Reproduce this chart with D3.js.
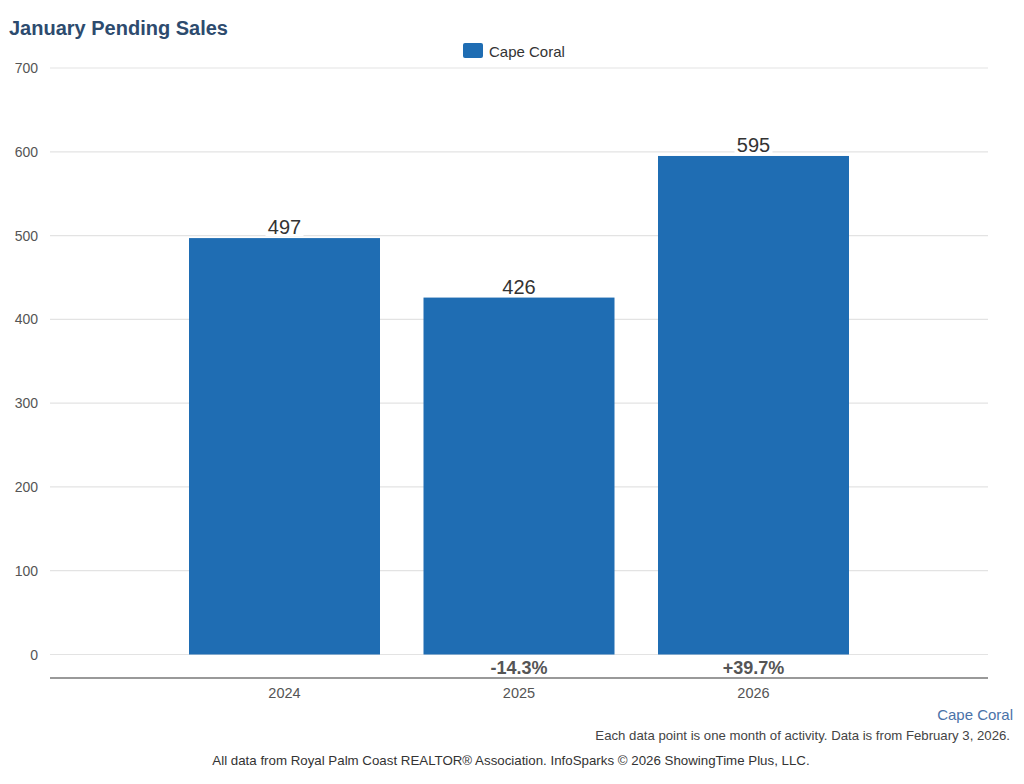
<!DOCTYPE html>
<html>
<head>
<meta charset="utf-8">
<script src="https://cdn.jsdelivr.net/npm/d3@7"></script>
<style>
  body { margin: 0; background: #fff; }
  svg { font-family: "Liberation Sans", Arial, sans-serif; }
</style>
</head>
<body>
<svg id="chart" width="1024" height="784"></svg>
<script>
// chart data
var years = [2024, 2025, 2026];
var pendingSales = [497, 426, 595];
var changeLabels = ['', '-14.3%', '+39.7%'];
var yTicks = [0, 100, 200, 300, 400, 500, 600, 700];
var seriesName = 'Cape Coral';

var svg = d3.select('#chart');
var plotLeft = 50, plotRight = 988, plotTop = 68, zeroY = 654.5;

// blank slot on each side of the years, like the original chart
var x = d3.scalePoint()
    .domain(['a'].concat(years, ['b']))
    .range([plotLeft, plotRight]);
var y = d3.scaleLinear().domain([0, 700]).range([zeroY, plotTop]);
var barW = 191;
var blue = '#1f6db3';

svg.append('text')
    .attr('x', 9).attr('y', 35)
    .style('font-size', '20px').style('font-weight', 'bold')
    .attr('fill', '#2d4b6e')
    .text('January Pending Sales');

// legend
svg.append('rect')
    .attr('x', 463).attr('y', 43).attr('width', 20).attr('height', 15)
    .attr('rx', 2).attr('fill', blue);
svg.append('text')
    .attr('x', 489).attr('y', 57)
    .style('font-size', '15px').attr('fill', '#333')
    .text(seriesName);

// gridlines + y labels
var grid = svg.append('g');
grid.selectAll('line').data(yTicks).enter().append('line')
    .attr('x1', plotLeft).attr('x2', plotRight)
    .attr('y1', function(d) { return y(d); })
    .attr('y2', function(d) { return y(d); })
    .attr('stroke', '#e3e3e3').attr('stroke-width', 1.2);
grid.selectAll('text').data(yTicks).enter().append('text')
    .attr('x', 38).attr('y', function(d) { return y(d) + 5; })
    .attr('text-anchor', 'end')
    .style('font-size', '14px').attr('fill', '#555')
    .text(function(d) { return d; });

// bars
svg.selectAll('.bar').data(pendingSales).enter().append('rect')
    .attr('class', 'bar')
    .attr('x', function(d, i) { return x(years[i]) - barW / 2; })
    .attr('y', function(d) { return y(d); })
    .attr('width', barW)
    .attr('height', function(d) { return zeroY - y(d); })
    .attr('fill', blue);

// value labels with white boxes
var vl = svg.selectAll('.val').data(pendingSales).enter().append('g')
    .attr('class', 'val')
    .attr('transform', function(d, i) {
        return 'translate(' + x(years[i]) + ',' + (y(d) - 4) + ')';
    });
vl.append('rect')
    .attr('x', -19).attr('y', -17).attr('width', 38).attr('height', 19)
    .attr('fill', '#fff');
vl.append('text')
    .attr('text-anchor', 'middle')
    .style('font-size', '20px').attr('fill', '#333')
    .text(function(d) { return d; });

// change labels
svg.selectAll('.chg').data(changeLabels).enter().append('text')
    .attr('class', 'chg')
    .attr('x', function(d, i) { return x(years[i]); })
    .attr('y', 674)
    .attr('text-anchor', 'middle')
    .style('font-size', '18px').style('font-weight', 'bold')
    .attr('fill', '#555')
    .text(function(d) { return d; });

// x axis line + year labels
svg.append('line')
    .attr('x1', plotLeft).attr('x2', plotRight).attr('y1', 678).attr('y2', 678)
    .attr('stroke', '#999').attr('stroke-width', 2);
svg.selectAll('.yr').data(years).enter().append('text')
    .attr('class', 'yr')
    .attr('x', function(d) { return x(d); })
    .attr('y', 698)
    .attr('text-anchor', 'middle')
    .style('font-size', '14.5px').attr('fill', '#555')
    .text(function(d) { return d; });

// footer
svg.append('text')
    .attr('x', 1013).attr('y', 720).attr('text-anchor', 'end')
    .style('font-size', '15px').attr('fill', '#4a72a8')
    .text(seriesName);
svg.append('text')
    .attr('x', 1010).attr('y', 740).attr('text-anchor', 'end')
    .style('font-size', '13.2px').attr('fill', '#444')
    .text('Each data point is one month of activity. Data is from February 3, 2026.');
svg.append('text')
    .attr('x', 511).attr('y', 765).attr('text-anchor', 'middle')
    .style('font-size', '13.3px').attr('fill', '#333')
    .text('All data from Royal Palm Coast REALTOR\u00ae Association. InfoSparks \u00a9 2026 ShowingTime Plus, LLC.');
</script>
</body>
</html>
